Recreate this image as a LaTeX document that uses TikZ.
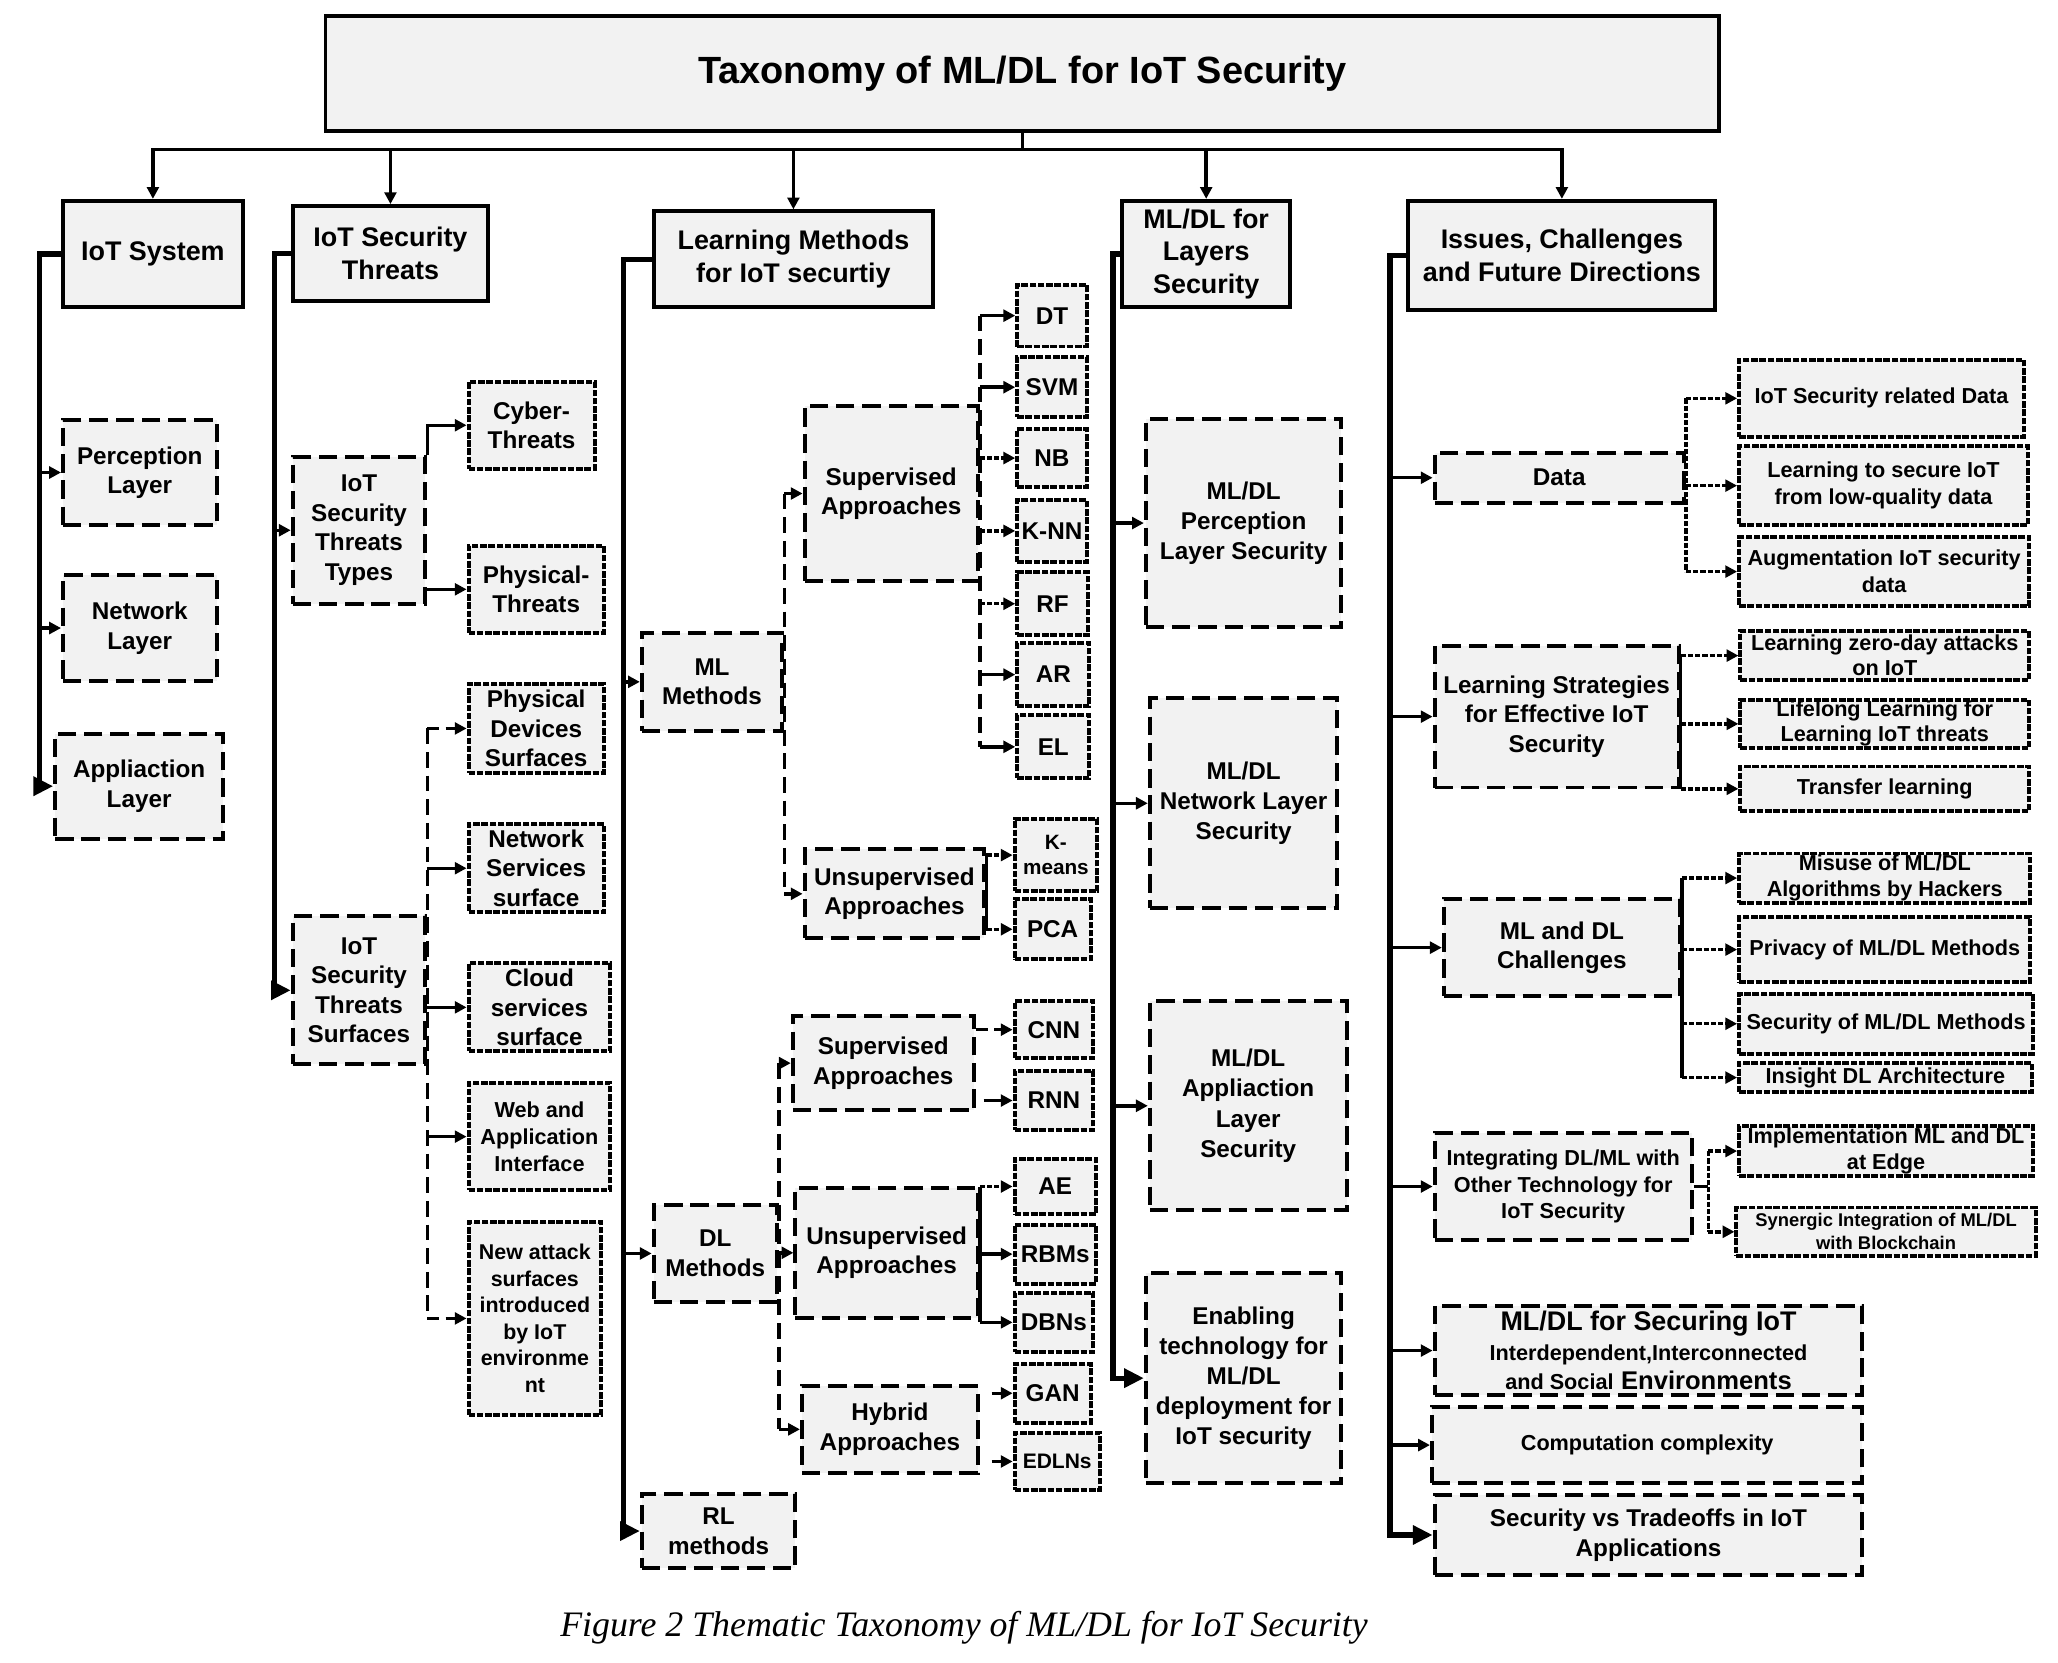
\documentclass[tikz,border=0pt]{standalone}
\usepackage{fontspec}
\setmainfont{Liberation Sans}
\newfontfamily\capfont{Liberation Serif}
\usetikzlibrary{arrows.meta,calc}
\definecolor{boxgray}{HTML}{F2F2F2}
\newcommand\fsz[2]{\fontsize{#1}{#2}\selectfont}
\begin{document}
\begin{tikzpicture}[x=1pt,y=-1pt,
  box/.style={draw, fill=boxgray, line width=3pt, inner sep=1pt, align=center, font=\bfseries\fsz{18.5}{22.5}},
  hdr/.style={box, font=\bfseries\fsz{20.5}{25}},
  dbox/.style={box, dash pattern=on 14pt off 6pt},
  sbox/.style={box, dash pattern=on 5pt off 1.3pt},
  small/.style={font=\bfseries\fsz{16.5}{20.5}},
  trunk/.style={line width=4pt, -{Triangle[length=15pt,width=14pt]}},
  conn/.style={line width=2.6pt},
  arr/.style={conn, -{Triangle[length=9pt,width=9pt]}},
  darr/.style={arr, dash pattern=on 9pt off 5pt},
  sarr/.style={arr, dash pattern=on 4pt off 1.5pt},
  dline/.style={conn, dash pattern=on 12pt off 6pt},
  sline/.style={conn, dash pattern=on 4pt off 1.5pt},
]
\useasboundingbox[fill=white] (0,0) rectangle (1568,1267);

% title
\node[box, minimum width=1062, minimum height=88, font=\bfseries\fsz{28.9}{34}] (title) at (779,56) {Taxonomy of ML/DL for IoT Security};

% headers
\node[hdr, minimum width=137, minimum height=81] (h1) at (116.5,193.5) {IoT System};
\node[hdr, minimum width=149, minimum height=72] (h2) at (297.5,193) {IoT Security\\Threats};
\node[hdr, minimum width=213, minimum height=73] (h3) at (604.5,197.5) {Learning Methods\\for IoT securtiy};
\node[hdr, minimum width=128, minimum height=81] (h4) at (919,193.5) {ML/DL for\\Layers\\Security};
\node[hdr, minimum width=234, minimum height=83] (h5) at (1190,194.5) {Issues, Challenges\\and Future Directions};

\coordinate (hub) at (779,114);
\draw[conn] (title.south) -- (hub);
\foreach \h in {h1,h2,h3,h4,h5} \draw[arr] (hub) -| (\h.north);

% column 1
\node[dbox, minimum width=117, minimum height=80] (perc) at (106.5,360) {Perception\\Layer};
\node[dbox, minimum width=117, minimum height=81] (netl) at (106.5,478.5) {Network\\Layer};
\node[dbox, minimum width=128, minimum height=80] (appl) at (106,599) {Appliaction\\Layer};
\coordinate (t1x) at (30,0);
\draw[trunk] (h1.west) -- (h1.west -| t1x) |- (appl.west);
\draw[arr] (perc.west -| t1x) -- (perc.west);
\draw[arr] (netl.west -| t1x) -- (netl.west);

% column 2
\node[dbox, minimum width=101, minimum height=112] (types) at (273.5,404) {IoT\\Security\\Threats\\Types};
\node[dbox, minimum width=101, minimum height=113] (surf) at (273.5,754.5) {IoT\\Security\\Threats\\Surfaces};
\node[sbox, minimum width=96, minimum height=66] (cyber) at (405,324) {Cyber-\\Threats};
\node[sbox, minimum width=103, minimum height=66] (phys) at (408.5,449) {Physical-\\Threats};
\node[sbox, minimum width=103, minimum height=68] (pds) at (408.5,555) {Physical\\Devices\\Surfaces};
\node[sbox, minimum width=103, minimum height=67] (nss) at (408.5,661.5) {Network\\Services\\surface};
\node[sbox, minimum width=108, minimum height=67] (css) at (411,767.5) {Cloud\\services\\surface};
\node[sbox, small, minimum width=108, minimum height=82] (web) at (411,866) {Web and\\Application\\Interface};
\node[sbox, font=\bfseries\fsz{16.3}{20.2}, minimum width=101, minimum height=147] (nas) at (407.5,1004.5) {New attack\\surfaces\\introduced\\by IoT\\environme\\nt};
\coordinate (t2x) at (209,0);
\draw[trunk] (h2.west) -- (h2.west -| t2x) |- (surf.west);
\draw[arr] (types.west -| t2x) -- (types.west);
\draw[arr] (types.north east) |- (cyber.west);
\draw[arr] (types.east |- phys.west) -- (phys.west);
\draw[dline] (surf.east |- pds.west) -- (surf.east |- nas.west);
\draw[darr] (surf.east |- pds.west) -- (pds.west);
\draw[arr] (surf.east |- nss.west) -- (nss.west);
\draw[arr] (surf.east |- css.west) -- (css.west);
\draw[arr] (surf.east |- web.west) -- (web.west);
\draw[darr] (surf.east |- nas.west) -- (nas.west);

% column 3
\node[dbox, minimum width=107, minimum height=75] (mlm) at (542.5,519.5) {ML\\Methods};
\node[dbox, minimum width=94, minimum height=74] (dlm) at (545,955) {DL\\Methods};
\node[dbox, minimum width=117, minimum height=57] (rlm) at (547.5,1166.5) {RL\\methods};
\node[dbox, minimum width=132, minimum height=134] (msup) at (679,376) {Supervised\\Approaches};
\node[dbox, minimum width=137, minimum height=68] (munsup) at (681.5,681) {Unsupervised\\Approaches};
\node[sbox, minimum width=53, minimum height=47] (dt) at (801.5,240.5) {DT};
\node[sbox, minimum width=53, minimum height=46] (svm) at (801.5,295) {SVM};
\node[sbox, minimum width=53, minimum height=44] (nb) at (801.5,349) {NB};
\node[sbox, minimum width=53, minimum height=47] (knn) at (801.5,404.5) {K-NN};
\node[sbox, minimum width=54, minimum height=48] (rf) at (802,460) {RF};
\node[sbox, minimum width=55, minimum height=48] (ar) at (802.5,514) {AR};
\node[sbox, minimum width=55, minimum height=48] (el) at (802.5,569) {EL};
\node[sbox, font=\bfseries\fsz{15.8}{19}, minimum width=63, minimum height=55] (kmeans) at (804.5,651.5) {K-\\means};
\node[sbox, minimum width=58, minimum height=46] (pca) at (802,708) {PCA};
\node[dbox, minimum width=138, minimum height=72] (dsup) at (673,810) {Supervised\\Approaches};
\node[dbox, minimum width=139, minimum height=99] (dunsup) at (675.5,954.5) {Unsupervised\\Approaches};
\node[dbox, minimum width=134, minimum height=66] (hyb) at (678,1089) {Hybrid\\Approaches};
\node[sbox, minimum width=60, minimum height=43] (cnn) at (803,784.5) {CNN};
\node[sbox, minimum width=60, minimum height=45] (rnn) at (803,838.5) {RNN};
\node[sbox, minimum width=62, minimum height=42] (ae) at (804,904) {AE};
\node[sbox, minimum width=62, minimum height=45] (rbm) at (804,955.5) {RBMs};
\node[sbox, minimum width=60, minimum height=45] (dbn) at (803,1007.5) {DBNs};
\node[sbox, minimum width=58, minimum height=45] (gan) at (802,1061.5) {GAN};
\node[sbox, font=\bfseries\fsz{16}{19}, minimum width=65, minimum height=43] (edln) at (805.5,1113.5) {EDLNs};
\coordinate (t3x) at (475,0);
\draw[trunk] (h3.west) -- (h3.west -| t3x) |- (rlm.west);
\draw[arr] (mlm.west -| t3x) -- (mlm.west);
\draw[arr] (dlm.west -| t3x) -- (dlm.west);
\draw[dline] (mlm.east |- msup.west) -- (mlm.east |- munsup.west);
\draw[arr] (mlm.east |- msup.west) -- (msup.west);
\draw[arr] (mlm.east |- munsup.west) -- (munsup.west);
\draw[dline] (msup.east |- dt.west) -- (msup.east |- el.west);
\foreach \n in {dt,svm,ar,el} \draw[arr] (msup.east |- \n.west) -- (\n.west);
\foreach \n in {nb,knn,rf} \draw[sarr] (msup.east |- \n.west) -- (\n.west);
\draw[conn] (munsup.east |- kmeans.west) -- (munsup.east |- pca.west);
\draw[sarr] (munsup.east |- kmeans.west) -- (kmeans.west);
\draw[sarr] (munsup.east |- pca.west) -- (pca.west);
\draw[dline] (dlm.east |- dsup.west) -- (dlm.east |- hyb.west);
\draw[arr] (dlm.east |- dsup.west) -- (dsup.west);
\draw[arr] (dlm.east |- dunsup.west) -- (dunsup.west);
\draw[arr] (dlm.east |- hyb.west) -- (hyb.west);
\draw[darr] (dsup.east |- cnn.west) -- (cnn.west);
\draw[arr] ($(dsup.east |- rnn.west)+(6,0)$) -- (rnn.west);
\draw[conn] (dunsup.east |- ae.west) -- (dunsup.east |- dbn.west);
\draw[sarr] (dunsup.east |- ae.west) -- (ae.west);
\draw[arr] (dunsup.east |- rbm.west) -- (rbm.west);
\draw[arr] (dunsup.east |- dbn.west) -- (dbn.west);
\draw[arr] ($(hyb.east |- gan.west)+(9,0)$) -- (gan.west);
\draw[arr] ($(hyb.east |- edln.west)+(9,0)$) -- (edln.west);

% column 4
\node[dbox, font=\bfseries\fsz{18.5}{23}, minimum width=149, minimum height=159] (lp) at (947.5,398.5) {ML/DL\\Perception\\Layer Security};
\node[dbox, font=\bfseries\fsz{18.5}{23}, minimum width=143, minimum height=160] (ln) at (947.5,612) {ML/DL\\Network Layer\\Security};
\node[dbox, font=\bfseries\fsz{18.5}{23}, minimum width=150, minimum height=159] (la) at (951,842.5) {ML/DL\\Appliaction\\Layer\\Security};
\node[dbox, font=\bfseries\fsz{18.5}{23}, minimum width=149, minimum height=160] (en) at (947.5,1050) {Enabling\\technology for\\ML/DL\\deployment for\\IoT security};
\coordinate (t4x) at (848,0);
\draw[trunk] (h4.west) -- (h4.west -| t4x) |- (en.west);
\foreach \n in {lp,ln,la} \draw[arr] (\n.west -| t4x) -- (\n.west);

% column 5
\node[dbox, minimum width=190, minimum height=38] (data) at (1188,364) {Data};
\node[dbox, minimum width=186, minimum height=108] (lstr) at (1186,546) {Learning Strategies\\for Effective IoT\\Security};
\node[dbox, minimum width=180, minimum height=74] (mldc) at (1190,722) {ML and DL\\Challenges};
\node[dbox, font=\bfseries\fsz{16.5}{20}, minimum width=196, minimum height=82] (integ) at (1191,904) {Integrating DL/ML with\\Other Technology for\\IoT Security};
\node[dbox, font=\bfseries\fsz{20.5}{22.5}, minimum width=326, minimum height=68] (sec1) at (1256,1029) {ML/DL for Securing IoT\\{\fsz{16.5}{22.5}Interdependent,Interconnected}\\{\fsz{16.5}{22.5}and Social} {\fsz{19.5}{22.5}Environments}};
\node[dbox, small, minimum width=328, minimum height=58] (comp) at (1255,1101) {Computation complexity};
\node[dbox, font=\bfseries\fsz{18.5}{23}, minimum width=326, minimum height=61] (trade) at (1256,1169.5) {Security vs Tradeoffs in IoT\\Applications};

\node[sbox, small, minimum width=217, minimum height=59] (d1) at (1433.5,303.5) {IoT Security related Data};
\node[sbox, small, minimum width=220, minimum height=60] (d2) at (1435,370) {Learning to secure IoT\\from low-quality data};
\node[sbox, small, minimum width=221, minimum height=53] (d3) at (1435.5,435.5) {Augmentation IoT security\\data};
\node[sbox, font=\bfseries\fsz{16.5}{19}, minimum width=220, minimum height=37] (l1) at (1436,499.5) {Learning zero-day attacks\\on IoT};
\node[sbox, font=\bfseries\fsz{16.5}{19}, minimum width=220, minimum height=37] (l2) at (1436,551.5) {Lifelong Learning for\\Learning IoT threats};
\node[sbox, small, minimum width=220, minimum height=34] (l3) at (1436,601) {Transfer learning};
\node[sbox, font=\bfseries\fsz{16.5}{20}, minimum width=222, minimum height=36] (m1) at (1436,669) {Misuse of ML/DL\\Algorithms by Hackers};
\node[sbox, small, minimum width=222, minimum height=49] (m2) at (1436,723.5) {Privacy of ML/DL Methods};
\node[sbox, small, minimum width=224, minimum height=46] (m3) at (1437,780) {Security of ML/DL Methods};
\node[sbox, small, minimum width=223, minimum height=22] (m4) at (1436.5,821) {Insight DL Architecture};
\node[sbox, font=\bfseries\fsz{16.5}{20}, minimum width=224, minimum height=38] (i1) at (1437,877) {Implementation ML and DL\\at Edge};
\node[sbox, font=\bfseries\fsz{14}{17.5}, minimum width=228, minimum height=37] (i2) at (1437,938.5) {Synergic Integration of ML/DL\\with Blockchain};

\coordinate (t5x) at (1059,0);
\draw[trunk] (h5.west) -- (h5.west -| t5x) |- (trade.west);
\foreach \n in {data,lstr,mldc,integ,sec1,comp} \draw[arr] (\n.west -| t5x) -- (\n.west);
\draw[sline] (data.east |- d1.west) -- (data.east |- d3.west);
\foreach \n in {d1,d2,d3} \draw[sarr] (data.east |- \n.west) -- (\n.west);
\draw[conn] (lstr.east |- l1.west) -- (lstr.east |- l3.west);
\foreach \n in {l1,l2,l3} \draw[sarr] (lstr.east |- \n.west) -- (\n.west);
\draw[conn] (mldc.east |- m1.west) -- (mldc.east |- m4.west);
\foreach \n in {m1,m2,m3,m4} \draw[sarr] (mldc.east |- \n.west) -- (\n.west);
\coordinate (ij) at ($(integ.east)+(11,0)$);
\draw[conn] (integ.east) -- (ij);
\draw[sline] (ij |- i1.west) -- (ij |- i2.west);
\foreach \n in {i1,i2} \draw[sarr] (ij |- \n.west) -- (\n.west);

% caption
\node[font=\capfont\itshape\fsz{27.3}{32}] (cap) at (734.5,1240) {Figure 2 Thematic Taxonomy of ML/DL for IoT Security};
\end{tikzpicture}
\end{document}
